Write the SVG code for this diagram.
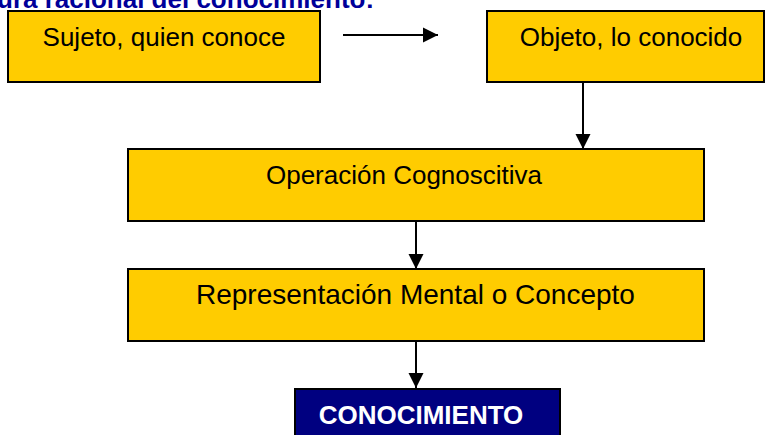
<svg xmlns="http://www.w3.org/2000/svg" width="765" height="435" viewBox="0 0 765 435">
  <style>
    .box { fill: #FFCC00; stroke: #000; stroke-width: 2; }
    .dark { fill: #000080; stroke: #000; stroke-width: 2; }
    .lbl { font-family: "Liberation Sans", Arial, sans-serif; font-size: 26px; fill: #000; }
    .wlbl { font-family: "Liberation Sans", Arial, sans-serif; font-size: 26px; font-weight: bold; fill: #fff; }
    .title { font-family: "Liberation Sans", Arial, sans-serif; font-size: 26px; font-weight: bold; fill: #000099; }
    .conn { stroke: #000; stroke-width: 2; fill: none; marker-end: url(#arrow); }
  </style>
  <defs>
    <marker id="arrow" markerUnits="userSpaceOnUse" markerWidth="16" markerHeight="16" viewBox="0 0 16 16" refX="15" refY="8" orient="auto">
      <path d="M0,0.5 L15,8 L0,15.5 Z" fill="#000"/>
    </marker>
  </defs>
  <rect width="765" height="435" fill="#fff"/>
  <text class="title" x="-3" y="8">ura racional del conocimiento:</text>

  <g id="sujeto">
    <rect class="box" x="8" y="11" width="312" height="71"/>
    <text class="lbl" x="164" y="46" text-anchor="middle">Sujeto, quien conoce</text>
  </g>
  <g id="objeto">
    <rect class="box" x="487" y="11" width="277" height="71"/>
    <text class="lbl" x="631" y="46" text-anchor="middle">Objeto, lo conocido</text>
  </g>
  <g id="operacion">
    <rect class="box" x="128" y="149" width="576" height="72"/>
    <text class="lbl" x="404" y="184" text-anchor="middle">Operación Cognoscitiva</text>
  </g>
  <g id="representacion">
    <rect class="box" x="128" y="269" width="576" height="72"/>
    <text class="lbl" x="196" y="304" style="font-size:28px">Representación Mental o Concepto</text>
  </g>
  <g id="conocimiento">
    <rect class="dark" x="295" y="389" width="265" height="60"/>
    <text class="wlbl" x="421" y="424" text-anchor="middle">CONOCIMIENTO</text>
  </g>

  <g id="connectors">
    <line class="conn" x1="343" y1="35" x2="438" y2="35"/>
    <line class="conn" x1="583" y1="82" x2="583" y2="149"/>
    <line class="conn" x1="416" y1="221" x2="416" y2="269"/>
    <line class="conn" x1="416" y1="341" x2="416" y2="388"/>
  </g>
</svg>
